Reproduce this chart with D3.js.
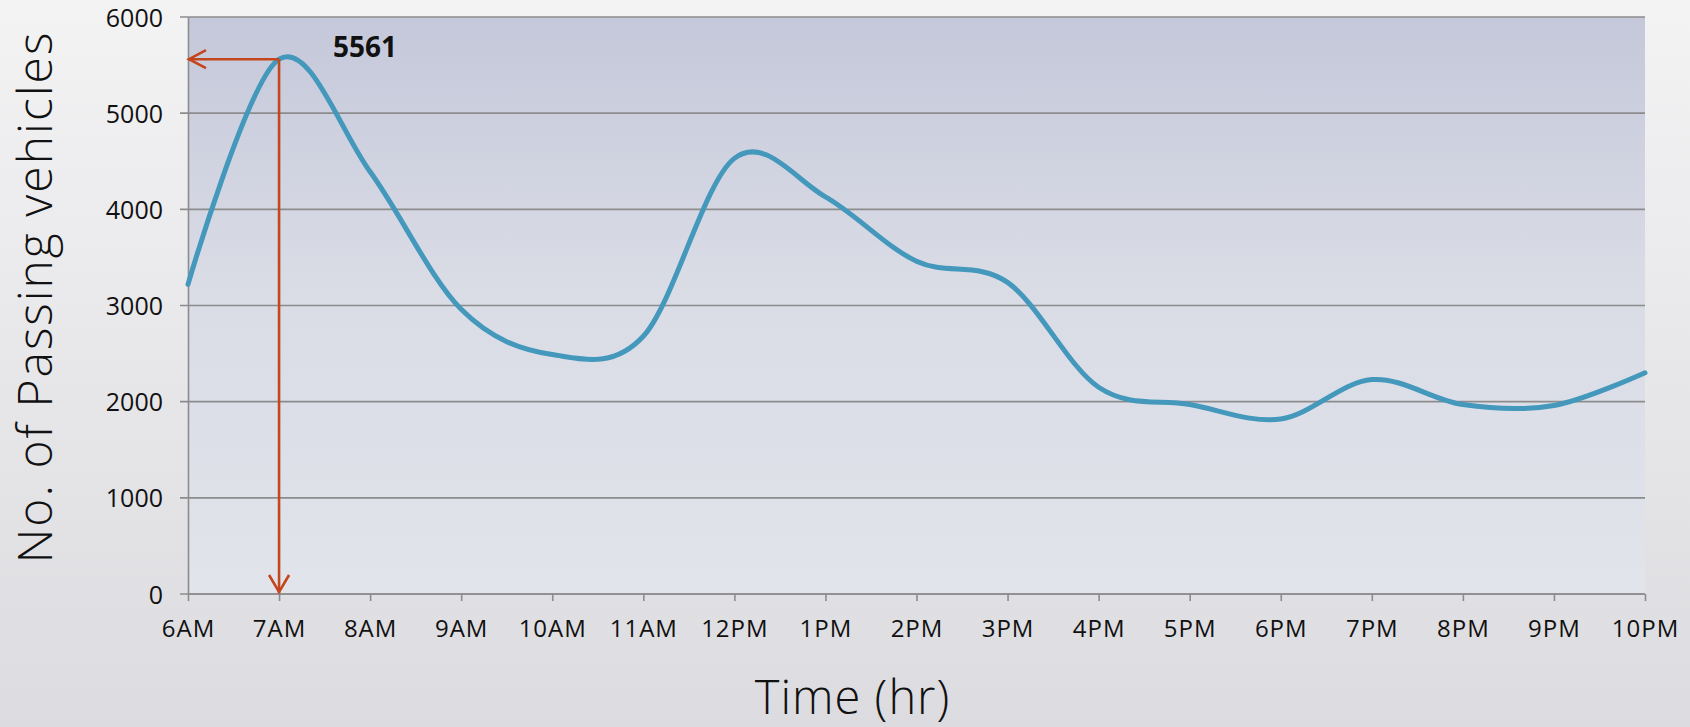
<!DOCTYPE html>
<html>
<head>
<meta charset="utf-8">
<script src="https://cdn.jsdelivr.net/npm/d3@7"></script>
<style>
  html, body { margin: 0; padding: 0; background: #e8e8ea; }
  svg { display: block; }
  text { font-family: "Open Sans", "DejaVu Sans", sans-serif; fill: #111; }
</style>
</head>
<body>
<svg id="chart" width="1690" height="727"></svg>
<script>
// Hourly traffic counts
const hours = ["6AM", "7AM", "8AM", "9AM", "10AM", "11AM", "12PM", "1PM", "2PM",
               "3PM", "4PM", "5PM", "6PM", "7PM", "8PM", "9PM", "10PM"];
const vehicles = [3220, 5561, 4390, 2960, 2490, 2680, 4530, 4130, 3460,
                  3240, 2150, 1970, 1820, 2230, 1970, 1960, 2300];
const yTicks = [0, 1000, 2000, 3000, 4000, 5000, 6000];
const peakHour = "7AM";
const peakValue = 5561;
const xTitle = "Time (hr)";
const yTitle = "No. of Passing vehicles";

const W = 1690, H = 727;
const margin = { left: 188, right: 45, top: 17, bottom: 133 };
const iw = W - margin.left - margin.right;
const ih = H - margin.top - margin.bottom;

const svg = d3.select("#chart");
const defs = svg.append("defs");

const bgGrad = defs.append("linearGradient").attr("id", "bgGrad")
  .attr("x1", 0).attr("y1", 0).attr("x2", 0).attr("y2", 1);
bgGrad.append("stop").attr("offset", "0%").attr("stop-color", "#f3f3f4");
bgGrad.append("stop").attr("offset", "100%").attr("stop-color", "#dcdbdf");

const plotGrad = defs.append("linearGradient").attr("id", "plotGrad")
  .attr("x1", 0).attr("y1", 0).attr("x2", 0).attr("y2", 1);
plotGrad.append("stop").attr("offset", "0%").attr("stop-color", "#c5c8da");
plotGrad.append("stop").attr("offset", "45%").attr("stop-color", "#d9dbe5");
plotGrad.append("stop").attr("offset", "100%").attr("stop-color", "#e2e4ec");

svg.append("rect").attr("width", W).attr("height", H).attr("fill", "url(#bgGrad)");

const g = svg.append("g").attr("transform", `translate(${margin.left},${margin.top})`);

const x = d3.scalePoint().domain(hours).range([0, iw]);
const y = d3.scaleLinear().domain([0, 6000]).range([ih, 0]);

g.append("rect").attr("width", iw).attr("height", ih).attr("fill", "url(#plotGrad)");

// horizontal gridlines
g.selectAll(".grid").data(yTicks).join("line")
  .attr("class", "grid")
  .attr("x1", -8).attr("x2", iw)
  .attr("y1", d => y(d)).attr("y2", d => y(d))
  .attr("stroke", "#8c8c8c").attr("stroke-width", 1.6);

// y axis
const yAxis = g.append("g").call(d3.axisLeft(y).tickValues(yTicks).tickSize(0).tickPadding(25).tickFormat(d3.format("d")));
yAxis.select(".domain").attr("stroke", "#8c8c8c").attr("stroke-width", 1.6);
yAxis.selectAll("text").style("font-size", "25px").attr("fill", "#111").attr("dy", "0.36em");

// x axis
const xAxis = g.append("g").attr("transform", `translate(0,${ih})`)
  .call(d3.axisBottom(x).tickSize(7).tickPadding(19));
xAxis.select(".domain").attr("stroke", "#8c8c8c").attr("stroke-width", 1.6).attr("d", `M0,0H${iw}`);
xAxis.selectAll(".tick line").attr("stroke", "#8c8c8c").attr("stroke-width", 1.6);
xAxis.selectAll("text").style("font-size", "24px").style("letter-spacing", "1px").attr("fill", "#111");

// traffic line
const line = d3.line()
  .x((d, i) => x(hours[i]))
  .y(d => y(d))
  .curve(d3.curveCardinal.tension(0));

g.append("path").datum(vehicles)
  .attr("d", line)
  .attr("fill", "none")
  .attr("stroke", "#4398bc")
  .attr("stroke-width", 5)
  .attr("stroke-linecap", "round");

// peak annotation
const px = x(peakHour), py = y(peakValue);
const arrowColor = "#c3461c";
const ann = g.append("g").attr("stroke", arrowColor).attr("stroke-width", 2.6).attr("fill", "none");
ann.append("path").attr("d", `M${px},${py}H0`);
ann.append("path").attr("d", `M18,${py - 9}L1,${py}L18,${py + 9}`);
ann.append("path").attr("d", `M${px},${py}V${y(0) - 1}`);
ann.append("path").attr("d", `M${px - 10},${y(0) - 19}L${px},${y(0) - 2}L${px + 10},${y(0) - 19}`);

g.append("text")
  .attr("x", px + 54).attr("y", py - 2)
  .style("font-size", "28px").style("font-weight", "bold")
  .attr("fill", "#111")
  .text(peakValue);

// axis titles
svg.append("text")
  .attr("x", margin.left + iw / 2 - 64).attr("y", 714)
  .attr("text-anchor", "middle")
  .style("font-size", "47px").style("font-weight", "300").style("letter-spacing", "1px")
  .text(xTitle);

svg.append("text")
  .attr("transform", `translate(52,${margin.top + 280}) rotate(-90)`)
  .attr("text-anchor", "middle")
  .style("font-size", "48px").style("font-weight", "300").style("letter-spacing", "2px")
  .text(yTitle);
</script>
</body>
</html>
